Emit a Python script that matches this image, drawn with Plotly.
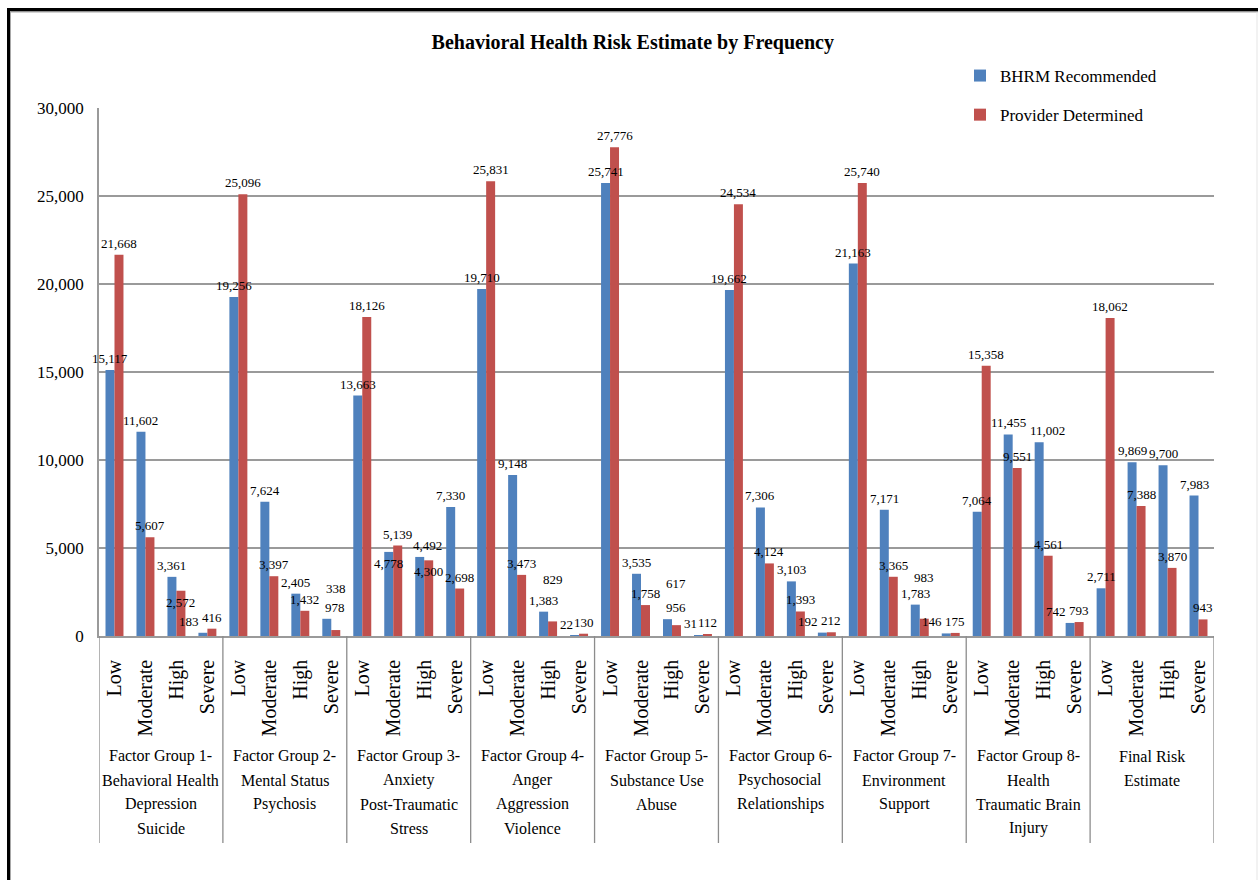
import plotly.graph_objects as go

# ---------------- data ----------------
group_labels = [
    ["Factor Group 1-", "Behavioral Health", "Depression", "Suicide"],
    ["Factor Group 2-", "Mental Status", "Psychosis"],
    ["Factor Group 3-", "Anxiety", "Post-Traumatic", "Stress"],
    ["Factor Group 4-", "Anger", "Aggression", "Violence"],
    ["Factor Group 5-", "Substance Use", "Abuse"],
    ["Factor Group 6-", "Psychosocial", "Relationships"],
    ["Factor Group 7-", "Environment", "Support"],
    ["Factor Group 8-", "Health", "Traumatic Brain", "Injury"],
    ["Final Risk", "Estimate"],
]
levels = ["Low", "Moderate", "High", "Severe"]

bhrm_recommended = [
    15117, 11602, 3361, 183,
    19256, 7624, 2405, 978,
    13663, 4778, 4492, 7330,
    19710, 9148, 1383, 22,
    25741, 3535, 956, 31,
    19662, 7306, 3103, 192,
    21163, 7171, 1783, 146,
    7064, 11455, 11002, 742,
    2711, 9869, 9700, 7983,
]
provider_determined = [
    21668, 5607, 2572, 416,
    25096, 3397, 1432, 338,
    18126, 5139, 4300, 2698,
    25831, 3473, 829, 130,
    27776, 1758, 617, 112,
    24534, 4124, 1393, 212,
    25740, 3365, 983, 175,
    15358, 9551, 4561, 793,
    18062, 7388, 3870, 943,
]
series_names = ["BHRM Recommended", "Provider Determined"]
y_ticks = [0, 5000, 10000, 15000, 20000, 25000, 30000]

# ---------------- layout constants ----------------
W, H = 1258, 880
L, R, T, B = 99, 44, 108, 244
PW, PH = W - L - R, H - T - B
Y_MAX = 30000
SERIF = "Liberation Serif"
BLUE = "#4F81BD"
RED = "#C0504D"
GRID = "#9a9a9a"
BARGAP = 0.42
LABEL_SIZE = 13


def px_x(px):
    return (px - L) / PW


def px_y(py):
    return (H - B - py) / PH


n_cat = len(levels) * len(group_labels)
xs = list(range(n_cat))
ticktext = levels * len(group_labels)

fig = go.Figure()
for name, vals, col, grp in [(series_names[0], bhrm_recommended, BLUE, "a"),
                             (series_names[1], provider_determined, RED, "b")]:
    fig.add_trace(go.Bar(
        x=xs, y=vals, name=name,
        marker=dict(color=col, line=dict(width=0)),
        legendgroup=grp, cliponaxis=False,
    ))

# ---------------- data labels (greedy collision avoidance) ----------------
cat_w = PW / n_cat
half_off = (1 - BARGAP) / 4          # bar-centre offset in category units
label_h = LABEL_SIZE + 2


def text_w(s):
    return sum(0.25 * LABEL_SIZE if c == "," else 0.5 * LABEL_SIZE for c in s)


labels = []
for si, vals in enumerate([bhrm_recommended, provider_determined]):
    sign = -1 if si == 0 else 1
    for i, v in enumerate(vals):
        labels.append(dict(i=i, v=v, sign=sign, s=f"{v:,}"))

placed = []


def overlaps(box):
    for b in placed:
        if box[0] < b[1] and b[0] < box[1] and box[2] < b[3] and b[2] < box[3]:
            return True
    return False


annotations = []
for lab in sorted(labels, key=lambda d: -d["v"]):
    xc = L + (lab["i"] + 0.5 + lab["sign"] * half_off) * cat_w
    top = T + PH * (1 - lab["v"] / Y_MAX)
    w = text_w(lab["s"])
    bar_h = PH * lab["v"] / Y_MAX
    cands = []
    for lift in (0, 1, 2, 3):
        for dx in (0, 8, -8, 14):
            cands.append(("above", lift, dx))
        if lift == 0 and bar_h > label_h + 4:
            for dx in (0, 10, -10):
                cands.append(("inside", 0, dx))
    chosen = None
    for mode, lift, dx in cands:
        xshift = lab["sign"] * dx
        cx = xc + xshift
        if mode == "above":
            yb = top - 2 - lift * label_h
            box = (cx - w / 2, cx + w / 2, yb - label_h, yb)
            yshift, yanchor = 2 + lift * label_h, "bottom"
        else:
            yt = top + 2
            box = (cx - w / 2, cx + w / 2, yt, yt + label_h)
            yshift, yanchor = -2, "top"
        if not overlaps(box):
            chosen = (box, xshift, yshift, yanchor)
            break
    if chosen is None:
        chosen = (box, xshift, yshift, yanchor)
    box, xshift, yshift, yanchor = chosen
    placed.append(box)
    annotations.append(dict(
        x=lab["i"] + lab["sign"] * half_off, xref="x", y=lab["v"], yref="y",
        text=lab["s"], showarrow=False, xanchor="center", yanchor=yanchor,
        xshift=xshift, yshift=yshift,
        font=dict(family=SERIF, size=LABEL_SIZE, color="black"),
    ))

shapes = []
n_per = len(levels)
for g in range(len(group_labels) + 1):
    xb = g * n_per - 0.5
    shapes.append(dict(type="line", xref="x", yref="paper", x0=xb, x1=xb,
                       y0=0, y1=px_y(843), line=dict(color="#8c8c8c", width=1.3)))

# frame of the screenshot
shapes.append(dict(type="rect", xref="paper", yref="paper",
                   x0=px_x(7), x1=px_x(1258), y0=px_y(8), y1=px_y(11.5),
                   fillcolor="black", line=dict(width=0), layer="above"))
shapes.append(dict(type="rect", xref="paper", yref="paper",
                   x0=px_x(10), x1=px_x(1258), y0=px_y(11.5), y1=px_y(12.5),
                   fillcolor="#a8a8a8", line=dict(width=0), layer="above"))
shapes.append(dict(type="rect", xref="paper", yref="paper",
                   x0=px_x(7), x1=px_x(10), y0=px_y(8), y1=px_y(880),
                   fillcolor="black", line=dict(width=0), layer="above"))
shapes.append(dict(type="rect", xref="paper", yref="paper",
                   x0=px_x(10), x1=px_x(11), y0=px_y(11.5), y1=px_y(880),
                   fillcolor="#a8a8a8", line=dict(width=0), layer="above"))
shapes.append(dict(type="rect", xref="paper", yref="paper",
                   x0=px_x(1256.5), x1=px_x(1257.5), y0=px_y(12), y1=px_y(880),
                   fillcolor="#e6e6e6", line=dict(width=0), layer="above"))

for g, lines in enumerate(group_labels):
    xc = g * n_per + (n_per - 1) / 2
    for i, line in enumerate(lines):
        annotations.append(dict(
            x=xc, xref="x", y=px_y(756 + 24 * i), yref="paper",
            text=line, showarrow=False, xanchor="center", yanchor="middle",
            font=dict(family=SERIF, size=16, color="black"),
        ))

fig.update_layout(
    width=W, height=H, autosize=False,
    margin=dict(l=L, r=R, t=T, b=B, pad=0),
    paper_bgcolor="white", plot_bgcolor="white",
    barmode="group", bargap=BARGAP, bargroupgap=0,
    title=dict(text="<b>Behavioral Health Risk Estimate by Frequency</b>",
               x=0.503, xref="container", xanchor="center",
               y=1 - 42 / H, yref="container", yanchor="middle",
               font=dict(family=SERIF, size=20, color="black")),
    xaxis=dict(range=[-0.5, n_cat - 0.5], tickmode="array", tickvals=xs,
               ticktext=ticktext, tickangle=-90, ticks="",
               ticklabelstandoff=14,
               tickfont=dict(family=SERIF, size=20, color="black"),
               showgrid=False, zeroline=False, showline=True,
               linecolor=GRID, linewidth=1.5),
    yaxis=dict(range=[0, Y_MAX], tickmode="array", tickvals=y_ticks,
               tickformat=",", ticks="", ticklabelstandoff=10,
               tickfont=dict(family=SERIF, size=17, color="black"),
               showgrid=True, gridcolor=GRID, gridwidth=1.5,
               zeroline=False, showline=True, linecolor=GRID, linewidth=1.5),
    legend=dict(x=px_x(960), y=px_y(58), xanchor="left", yanchor="top",
                bgcolor="rgba(0,0,0,0)", tracegroupgap=14,
                font=dict(family=SERIF, size=17, color="black"),
                itemwidth=30),
    shapes=shapes,
    annotations=annotations,
    showlegend=True,
)

fig.write_html("out.html")
